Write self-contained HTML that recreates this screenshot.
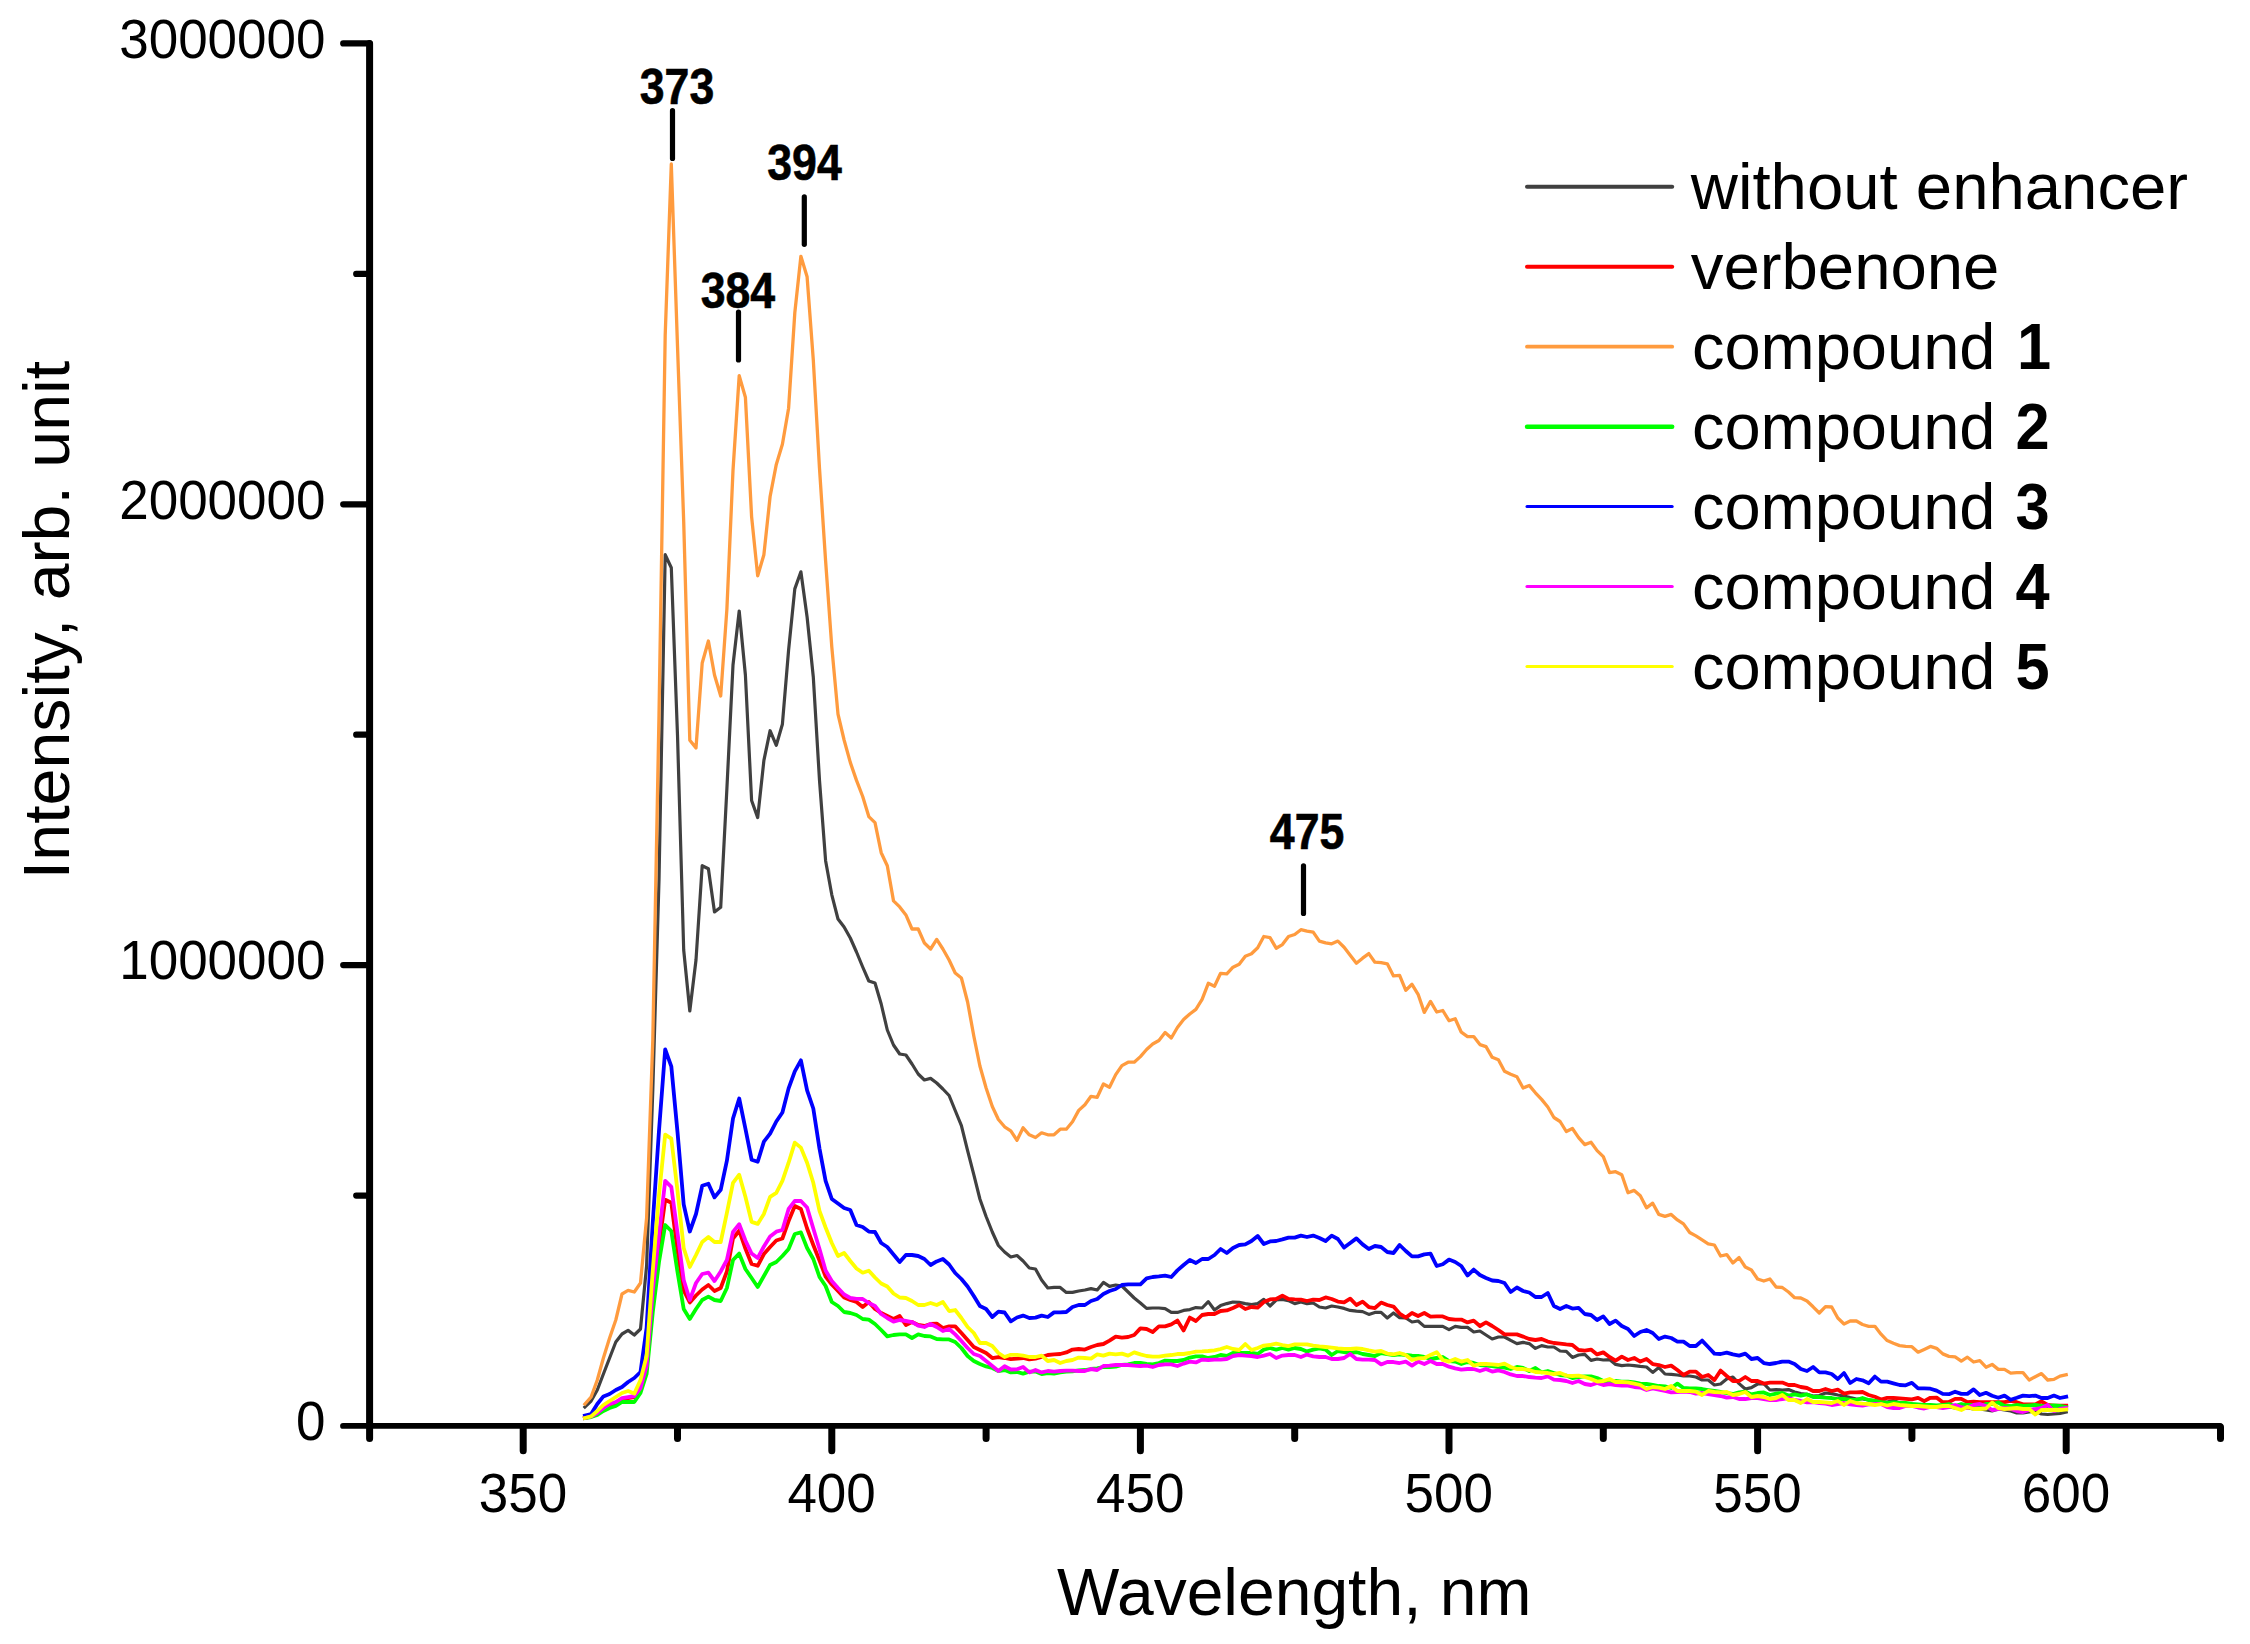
<!DOCTYPE html>
<html lang="en"><head><meta charset="utf-8"><title>Fluorescence spectra</title>
<style>
html,body{margin:0;padding:0;background:#fff;}
body{width:2250px;height:1644px;overflow:hidden;}
svg{display:block;}
text{font-family:"Liberation Sans",Arial,Helvetica,sans-serif;fill:#000;}
.ax{stroke:#000;fill:none;stroke-linecap:round;}
.cv{fill:none;stroke-linejoin:round;stroke-linecap:square;}
</style></head><body>
<svg width="2250" height="1644" viewBox="0 0 2250 1644">
<rect width="2250" height="1644" fill="#fff"/>
<polyline class="cv" stroke="#404040" stroke-width="3.2" points="584.9,1407.0 591.1,1401.0 597.3,1390.0 603.4,1374.0 609.6,1358.0 615.8,1342.0 622.0,1334.0 628.1,1330.4 634.3,1335.0 640.5,1329.0 646.6,1266.0 652.8,1090.0 659.0,880.0 665.2,554.7 671.3,567.8 677.5,735.0 683.7,950.0 689.8,1011.0 696.0,960.0 702.2,865.7 708.4,868.8 714.5,912.0 720.7,907.3 726.9,788.5 733.0,665.0 739.2,611.0 745.4,675.0 751.6,800.5 757.7,817.6 763.9,760.4 770.1,730.7 776.3,745.3 782.4,724.2 788.6,650.0 794.8,588.9 800.9,571.8 807.1,617.0 813.3,677.0 819.5,780.4 825.6,860.7 831.8,894.8 838.0,919.0 844.1,927.0 850.3,938.0 856.5,952.0 862.7,967.0 868.8,981.0 875.0,983.0 881.2,1004.0 887.3,1030.0 893.5,1045.0 899.7,1054.0 905.9,1055.0 912.0,1064.0 918.2,1074.0 924.4,1080.0 930.6,1078.4 936.7,1083.0 942.9,1089.0 949.1,1095.5 955.2,1110.5 961.4,1125.6 967.6,1150.7 973.8,1174.7 979.9,1199.0 986.1,1216.5 992.3,1232.0 998.4,1245.5 1004.6,1252.0 1010.8,1257.0 1017.0,1255.5 1023.1,1261.0 1029.3,1268.0 1035.5,1269.0 1041.6,1280.0 1047.8,1288.0 1054.0,1287.4 1060.2,1287.4 1066.3,1292.4 1072.5,1292.4 1078.7,1291.0 1084.9,1290.0 1091.0,1288.6 1097.2,1290.0 1103.4,1282.4 1109.5,1286.4 1115.7,1285.0 1121.9,1286.0 1128.1,1292.0 1134.2,1298.0 1140.4,1303.0 1146.6,1308.4 1152.7,1308.0 1158.9,1308.0 1165.1,1308.6 1171.3,1312.4 1177.4,1312.4 1183.6,1310.4 1189.8,1309.6 1195.9,1307.6 1202.1,1308.0 1208.3,1301.6 1214.5,1310.0 1220.6,1305.6 1226.8,1303.6 1233.0,1302.0 1239.2,1302.4 1245.3,1303.6 1251.5,1304.6 1257.7,1303.6 1263.8,1299.4 1270.0,1306.0 1276.2,1300.0 1282.4,1299.4 1288.5,1300.6 1294.7,1303.6 1300.9,1302.0 1307.0,1303.6 1313.2,1303.0 1319.4,1307.0 1325.6,1308.0 1331.7,1306.0 1337.9,1307.0 1344.1,1308.4 1350.2,1310.4 1356.4,1311.2 1362.6,1311.6 1368.8,1314.4 1374.9,1312.4 1381.1,1312.4 1387.3,1318.0 1393.5,1313.0 1399.6,1317.6 1405.8,1318.0 1412.0,1322.0 1418.1,1321.0 1424.3,1326.4 1430.5,1326.4 1436.7,1326.4 1442.8,1326.4 1449.0,1329.6 1455.2,1326.4 1461.3,1327.4 1467.5,1327.4 1473.7,1332.0 1479.9,1331.0 1486.0,1335.0 1492.2,1339.0 1498.4,1337.0 1504.5,1337.0 1510.7,1340.4 1516.9,1343.6 1523.1,1342.4 1529.2,1343.6 1535.4,1348.4 1541.6,1345.6 1547.8,1347.0 1553.9,1347.0 1560.1,1351.0 1566.3,1351.4 1572.4,1357.4 1578.6,1355.0 1584.8,1354.4 1591.0,1360.4 1597.1,1359.0 1603.3,1360.0 1609.5,1359.6 1615.6,1364.4 1621.8,1365.6 1628.0,1365.0 1634.2,1365.6 1640.3,1366.4 1646.5,1367.0 1652.7,1372.4 1658.8,1367.6 1665.0,1374.0 1671.2,1374.4 1677.4,1375.0 1683.5,1376.0 1689.7,1376.0 1695.9,1377.0 1702.1,1380.0 1708.2,1380.0 1714.4,1385.0 1720.6,1384.0 1726.7,1379.0 1732.9,1377.0 1739.1,1383.6 1745.3,1389.0 1751.4,1387.6 1757.6,1384.0 1763.8,1383.6 1769.9,1390.0 1776.1,1389.6 1782.3,1390.0 1788.5,1389.6 1794.6,1392.0 1800.8,1393.6 1807.0,1394.4 1813.1,1396.0 1819.3,1395.6 1825.5,1393.0 1831.7,1393.6 1837.8,1395.0 1844.0,1396.0 1850.2,1397.6 1856.4,1399.0 1862.5,1399.0 1868.7,1400.0 1874.9,1400.6 1881.0,1401.6 1887.2,1402.0 1893.4,1400.5 1899.6,1403.0 1905.7,1404.0 1911.9,1404.0 1918.1,1405.0 1924.2,1405.0 1930.4,1406.0 1936.6,1406.0 1942.8,1407.0 1948.9,1407.0 1955.1,1408.0 1961.3,1407.0 1967.4,1408.0 1973.6,1409.0 1979.8,1409.0 1986.0,1410.0 1992.1,1411.0 1998.3,1409.0 2004.5,1410.0 2010.7,1411.0 2016.8,1413.0 2023.0,1413.0 2029.2,1412.0 2035.3,1411.0 2041.5,1414.0 2047.7,1414.5 2053.9,1414.0 2060.0,1413.5 2066.2,1412.0"/>
<polyline class="cv" stroke="#ff0000" stroke-width="3.8" points="584.9,1418.0 591.1,1416.5 597.3,1413.5 603.4,1409.0 609.6,1405.0 615.8,1403.0 622.0,1399.0 628.1,1398.0 634.3,1397.0 640.5,1390.0 646.6,1368.0 652.8,1300.0 659.0,1245.0 665.2,1199.8 671.3,1202.8 677.5,1250.5 683.7,1290.5 689.8,1302.5 696.0,1295.5 702.2,1289.5 708.4,1285.0 714.5,1291.0 720.7,1288.0 726.9,1271.5 733.0,1238.5 739.2,1230.7 745.4,1248.5 751.6,1264.0 757.7,1265.8 763.9,1254.0 770.1,1247.0 776.3,1240.5 782.4,1238.5 788.6,1221.0 794.8,1206.0 800.9,1209.0 807.1,1228.5 813.3,1245.0 819.5,1260.5 825.6,1276.5 831.8,1284.5 838.0,1291.0 844.1,1297.5 850.3,1300.0 856.5,1302.0 862.7,1307.0 868.8,1302.0 875.0,1309.0 881.2,1313.0 887.3,1316.0 893.5,1319.0 899.7,1316.0 905.9,1325.0 912.0,1322.0 918.2,1325.0 924.4,1326.0 930.6,1324.0 936.7,1323.6 942.9,1328.0 949.1,1326.4 955.2,1326.4 961.4,1333.0 967.6,1340.0 973.8,1347.0 979.9,1350.0 986.1,1353.0 992.3,1358.0 998.4,1357.0 1004.6,1358.0 1010.8,1359.2 1017.0,1358.6 1023.1,1358.0 1029.3,1359.4 1035.5,1358.6 1041.6,1357.0 1047.8,1355.0 1054.0,1354.4 1060.2,1354.0 1066.3,1352.4 1072.5,1349.6 1078.7,1349.0 1084.9,1349.6 1091.0,1347.0 1097.2,1345.0 1103.4,1344.0 1109.5,1340.6 1115.7,1336.6 1121.9,1337.6 1128.1,1337.0 1134.2,1335.0 1140.4,1328.4 1146.6,1329.0 1152.7,1332.0 1158.9,1326.4 1165.1,1326.4 1171.3,1324.4 1177.4,1320.6 1183.6,1330.4 1189.8,1317.6 1195.9,1321.0 1202.1,1315.0 1208.3,1314.0 1214.5,1314.0 1220.6,1311.0 1226.8,1310.4 1233.0,1308.0 1239.2,1305.0 1245.3,1309.0 1251.5,1307.0 1257.7,1307.6 1263.8,1302.0 1270.0,1299.4 1276.2,1299.0 1282.4,1295.6 1288.5,1299.0 1294.7,1299.4 1300.9,1299.6 1307.0,1301.0 1313.2,1299.6 1319.4,1300.0 1325.6,1297.4 1331.7,1299.0 1337.9,1301.6 1344.1,1302.4 1350.2,1298.6 1356.4,1305.0 1362.6,1301.6 1368.8,1307.0 1374.9,1308.0 1381.1,1302.6 1387.3,1305.0 1393.5,1306.6 1399.6,1313.6 1405.8,1317.6 1412.0,1313.0 1418.1,1316.0 1424.3,1313.0 1430.5,1316.6 1436.7,1316.4 1442.8,1316.4 1449.0,1319.0 1455.2,1319.6 1461.3,1319.6 1467.5,1322.4 1473.7,1320.6 1479.9,1326.0 1486.0,1322.4 1492.2,1326.0 1498.4,1330.0 1504.5,1334.4 1510.7,1334.4 1516.9,1334.4 1523.1,1336.6 1529.2,1339.0 1535.4,1340.0 1541.6,1339.0 1547.8,1341.6 1553.9,1343.0 1560.1,1343.6 1566.3,1344.4 1572.4,1345.0 1578.6,1350.0 1584.8,1350.6 1591.0,1349.6 1597.1,1354.4 1603.3,1352.4 1609.5,1357.0 1615.6,1360.6 1621.8,1356.6 1628.0,1360.0 1634.2,1358.0 1640.3,1361.6 1646.5,1359.0 1652.7,1364.0 1658.8,1365.0 1665.0,1367.0 1671.2,1365.6 1677.4,1370.0 1683.5,1375.0 1689.7,1371.6 1695.9,1371.6 1702.1,1377.0 1708.2,1375.0 1714.4,1380.0 1720.6,1370.6 1726.7,1376.0 1732.9,1381.0 1739.1,1381.0 1745.3,1377.0 1751.4,1381.0 1757.6,1381.0 1763.8,1383.6 1769.9,1382.6 1776.1,1382.6 1782.3,1382.6 1788.5,1385.0 1794.6,1385.0 1800.8,1387.0 1807.0,1388.0 1813.1,1391.0 1819.3,1391.0 1825.5,1389.0 1831.7,1391.0 1837.8,1389.6 1844.0,1393.6 1850.2,1392.4 1856.4,1392.4 1862.5,1392.0 1868.7,1395.0 1874.9,1396.8 1881.0,1399.5 1887.2,1397.8 1893.4,1397.8 1899.6,1398.3 1905.7,1398.9 1911.9,1399.4 1918.1,1397.8 1924.2,1401.1 1930.4,1397.8 1936.6,1397.6 1942.8,1402.2 1948.9,1402.0 1955.1,1398.9 1961.3,1398.9 1967.4,1402.2 1973.6,1401.7 1979.8,1402.2 1986.0,1402.2 1992.1,1402.2 1998.3,1402.2 2004.5,1402.2 2010.7,1400.9 2016.8,1402.2 2023.0,1404.4 2029.2,1404.4 2035.3,1404.4 2041.5,1401.3 2047.7,1405.0 2053.9,1405.6 2060.0,1405.6 2066.2,1405.6"/>
<polyline class="cv" stroke="#ff9b3e" stroke-width="3.3" points="584.9,1404.0 591.1,1397.0 597.3,1380.0 603.4,1358.0 609.6,1338.0 615.8,1320.0 622.0,1294.0 628.1,1290.4 634.3,1292.0 640.5,1283.0 646.6,1218.0 652.8,1040.0 659.0,715.0 665.2,335.0 671.3,164.0 677.5,346.0 683.7,521.6 689.8,740.3 696.0,747.9 702.2,663.0 708.4,641.0 714.5,675.0 720.7,696.0 726.9,609.0 733.0,470.4 739.2,375.7 745.4,397.2 751.6,516.6 757.7,575.8 763.9,554.7 770.1,496.5 776.3,464.4 782.4,444.3 788.6,408.2 794.8,312.9 800.9,256.3 807.1,276.8 813.3,360.0 819.5,468.4 825.6,560.8 831.8,647.0 838.0,714.2 844.1,740.0 850.3,762.4 856.5,780.4 862.7,796.5 868.8,816.6 875.0,822.6 881.2,852.7 887.3,865.7 893.5,900.9 899.7,906.9 905.9,914.9 912.0,929.0 918.2,929.0 924.4,943.0 930.6,949.0 936.7,939.4 942.9,949.0 949.1,960.0 955.2,973.0 961.4,978.0 967.6,1002.0 973.8,1036.0 979.9,1066.0 986.1,1088.0 992.3,1106.5 998.4,1119.5 1004.6,1126.8 1010.8,1130.8 1017.0,1140.3 1023.1,1127.8 1029.3,1134.8 1035.5,1137.5 1041.6,1132.8 1047.8,1134.8 1054.0,1134.8 1060.2,1129.2 1066.3,1129.2 1072.5,1121.8 1078.7,1110.4 1084.9,1104.7 1091.0,1096.3 1097.2,1097.3 1103.4,1084.0 1109.5,1087.3 1115.7,1074.6 1121.9,1065.6 1128.1,1062.2 1134.2,1062.2 1140.4,1056.6 1146.6,1049.5 1152.7,1044.0 1158.9,1040.5 1165.1,1032.5 1171.3,1038.0 1177.4,1027.5 1183.6,1019.4 1189.8,1014.0 1195.9,1009.4 1202.1,999.4 1208.3,983.3 1214.5,986.3 1220.6,973.3 1226.8,973.9 1233.0,967.2 1239.2,964.2 1245.3,956.2 1251.5,953.8 1257.7,947.8 1263.8,936.5 1270.0,937.7 1276.2,948.2 1282.4,944.6 1288.5,936.5 1294.7,934.5 1300.9,929.7 1307.0,931.1 1313.2,932.1 1319.4,941.1 1325.6,942.8 1331.7,943.8 1337.9,941.1 1344.1,947.2 1350.2,955.2 1356.4,963.2 1362.6,958.2 1368.8,953.6 1374.9,962.2 1381.1,962.6 1387.3,963.8 1393.5,975.9 1399.6,975.3 1405.8,990.3 1412.0,984.3 1418.1,994.3 1424.3,1012.4 1430.5,1001.4 1436.7,1012.0 1442.8,1010.5 1449.0,1020.7 1455.2,1018.7 1461.3,1032.2 1467.5,1036.6 1473.7,1036.6 1479.9,1044.6 1486.0,1046.6 1492.2,1057.3 1498.4,1059.7 1504.5,1071.3 1510.7,1074.3 1516.9,1076.7 1523.1,1088.0 1529.2,1085.4 1535.4,1092.8 1541.6,1099.4 1547.8,1107.0 1553.9,1117.5 1560.1,1121.5 1566.3,1131.5 1572.4,1128.5 1578.6,1137.6 1584.8,1144.6 1591.0,1142.2 1597.1,1150.6 1603.3,1156.6 1609.5,1172.7 1615.6,1171.7 1621.8,1174.7 1628.0,1192.8 1634.2,1190.4 1640.3,1195.8 1646.5,1207.8 1652.7,1203.2 1658.8,1214.4 1665.0,1216.4 1671.2,1214.4 1677.4,1219.9 1683.5,1223.9 1689.7,1232.5 1695.9,1235.9 1702.1,1239.9 1708.2,1243.9 1714.4,1245.0 1720.6,1256.0 1726.7,1254.6 1732.9,1263.0 1739.1,1257.6 1745.3,1267.0 1751.4,1270.0 1757.6,1279.0 1763.8,1281.0 1769.9,1279.0 1776.1,1287.0 1782.3,1287.5 1788.5,1292.0 1794.6,1297.7 1800.8,1298.0 1807.0,1301.0 1813.1,1306.8 1819.3,1313.0 1825.5,1306.6 1831.7,1307.0 1837.8,1318.0 1844.0,1324.0 1850.2,1321.0 1856.4,1321.0 1862.5,1324.5 1868.7,1326.3 1874.9,1326.3 1881.0,1334.2 1887.2,1340.6 1893.4,1343.3 1899.6,1345.6 1905.7,1346.4 1911.9,1346.7 1918.1,1352.2 1924.2,1349.4 1930.4,1346.4 1936.6,1348.3 1942.8,1353.9 1948.9,1356.4 1955.1,1356.9 1961.3,1361.1 1967.4,1357.2 1973.6,1362.0 1979.8,1360.6 1986.0,1367.2 1992.1,1364.4 1998.3,1369.4 2004.5,1369.4 2010.7,1373.1 2016.8,1372.6 2023.0,1372.6 2029.2,1380.0 2035.3,1376.7 2041.5,1373.6 2047.7,1380.0 2053.9,1379.4 2060.0,1376.1 2066.2,1374.7"/>
<polyline class="cv" stroke="#00ff00" stroke-width="3.8" points="584.9,1418.0 591.1,1417.0 597.3,1415.0 603.4,1411.0 609.6,1408.0 615.8,1406.0 622.0,1402.0 628.1,1402.0 634.3,1402.0 640.5,1393.0 646.6,1374.0 652.8,1312.0 659.0,1262.0 665.2,1225.0 671.3,1231.0 677.5,1272.0 683.7,1309.0 689.8,1319.0 696.0,1309.0 702.2,1300.0 708.4,1296.6 714.5,1300.0 720.7,1301.0 726.9,1288.0 733.0,1260.0 739.2,1253.6 745.4,1269.0 751.6,1278.0 757.7,1287.0 763.9,1276.0 770.1,1265.0 776.3,1262.0 782.4,1256.0 788.6,1249.0 794.8,1234.0 800.9,1232.4 807.1,1248.0 813.3,1259.0 819.5,1277.0 825.6,1286.0 831.8,1302.0 838.0,1306.0 844.1,1312.0 850.3,1313.0 856.5,1315.0 862.7,1319.0 868.8,1319.6 875.0,1324.0 881.2,1330.0 887.3,1336.4 893.5,1335.0 899.7,1334.4 905.9,1334.4 912.0,1338.0 918.2,1334.4 924.4,1336.0 930.6,1336.4 936.7,1339.0 942.9,1339.4 949.1,1339.4 955.2,1342.0 961.4,1348.0 967.6,1356.0 973.8,1361.0 979.9,1364.0 986.1,1366.4 992.3,1368.0 998.4,1371.0 1004.6,1370.0 1010.8,1372.4 1017.0,1372.0 1023.1,1373.6 1029.3,1371.6 1035.5,1371.6 1041.6,1374.0 1047.8,1373.0 1054.0,1373.6 1060.2,1372.4 1066.3,1371.6 1072.5,1371.4 1078.7,1370.4 1084.9,1370.0 1091.0,1369.0 1097.2,1368.4 1103.4,1367.0 1109.5,1367.0 1115.7,1366.6 1121.9,1365.0 1128.1,1364.4 1134.2,1363.0 1140.4,1363.0 1146.6,1364.0 1152.7,1364.4 1158.9,1363.0 1165.1,1360.6 1171.3,1361.0 1177.4,1361.0 1183.6,1360.0 1189.8,1357.6 1195.9,1356.4 1202.1,1356.4 1208.3,1358.0 1214.5,1357.0 1220.6,1355.0 1226.8,1356.0 1233.0,1353.0 1239.2,1353.0 1245.3,1353.0 1251.5,1353.0 1257.7,1354.0 1263.8,1349.6 1270.0,1348.0 1276.2,1349.6 1282.4,1348.0 1288.5,1349.6 1294.7,1348.0 1300.9,1349.0 1307.0,1351.4 1313.2,1349.6 1319.4,1348.4 1325.6,1349.6 1331.7,1355.0 1337.9,1351.0 1344.1,1352.0 1350.2,1353.0 1356.4,1352.0 1362.6,1354.0 1368.8,1355.0 1374.9,1356.0 1381.1,1353.0 1387.3,1354.0 1393.5,1355.0 1399.6,1354.4 1405.8,1355.0 1412.0,1355.6 1418.1,1356.0 1424.3,1357.0 1430.5,1359.0 1436.7,1358.0 1442.8,1357.0 1449.0,1361.0 1455.2,1361.6 1461.3,1364.0 1467.5,1362.0 1473.7,1363.0 1479.9,1365.0 1486.0,1365.6 1492.2,1366.0 1498.4,1367.0 1504.5,1367.6 1510.7,1369.0 1516.9,1367.0 1523.1,1368.0 1529.2,1371.0 1535.4,1368.0 1541.6,1372.4 1547.8,1371.0 1553.9,1373.0 1560.1,1375.0 1566.3,1375.6 1572.4,1378.0 1578.6,1377.0 1584.8,1376.4 1591.0,1376.4 1597.1,1378.0 1603.3,1381.0 1609.5,1382.0 1615.6,1381.0 1621.8,1381.6 1628.0,1381.6 1634.2,1382.4 1640.3,1383.6 1646.5,1384.0 1652.7,1385.0 1658.8,1386.0 1665.0,1386.4 1671.2,1388.0 1677.4,1383.6 1683.5,1388.0 1689.7,1388.4 1695.9,1388.4 1702.1,1389.0 1708.2,1390.0 1714.4,1391.0 1720.6,1392.0 1726.7,1393.0 1732.9,1394.0 1739.1,1392.4 1745.3,1391.6 1751.4,1394.4 1757.6,1393.0 1763.8,1392.4 1769.9,1395.0 1776.1,1393.6 1782.3,1393.0 1788.5,1395.6 1794.6,1394.4 1800.8,1395.6 1807.0,1394.4 1813.1,1397.0 1819.3,1397.0 1825.5,1397.6 1831.7,1398.0 1837.8,1399.0 1844.0,1399.0 1850.2,1400.0 1856.4,1400.0 1862.5,1398.0 1868.7,1400.0 1874.9,1401.0 1881.0,1402.0 1887.2,1403.0 1893.4,1402.5 1899.6,1403.0 1905.7,1403.0 1911.9,1404.0 1918.1,1404.5 1924.2,1405.0 1930.4,1405.0 1936.6,1405.5 1942.8,1405.0 1948.9,1404.0 1955.1,1406.0 1961.3,1404.0 1967.4,1405.0 1973.6,1405.0 1979.8,1406.0 1986.0,1404.0 1992.1,1404.0 1998.3,1402.5 2004.5,1406.0 2010.7,1406.0 2016.8,1405.0 2023.0,1406.0 2029.2,1405.5 2035.3,1405.0 2041.5,1406.0 2047.7,1406.0 2053.9,1405.5 2060.0,1406.0 2066.2,1407.0"/>
<polyline class="cv" stroke="#0000ff" stroke-width="3.8" points="584.9,1415.6 591.1,1414.0 597.3,1404.0 603.4,1396.4 609.6,1394.0 615.8,1390.0 622.0,1387.0 628.1,1382.0 634.3,1378.0 640.5,1372.0 646.6,1328.0 652.8,1222.0 659.0,1130.6 665.2,1049.3 671.3,1066.3 677.5,1132.0 683.7,1204.5 689.8,1231.5 696.0,1214.0 702.2,1185.8 708.4,1183.8 714.5,1197.4 720.7,1189.8 726.9,1160.7 733.0,1118.5 739.2,1098.5 745.4,1128.6 751.6,1159.7 757.7,1161.7 763.9,1141.6 770.1,1133.6 776.3,1121.5 782.4,1112.5 788.6,1088.4 794.8,1071.4 800.9,1060.3 807.1,1090.4 813.3,1108.5 819.5,1148.6 825.6,1180.8 831.8,1199.0 838.0,1203.5 844.1,1208.0 850.3,1210.0 856.5,1225.0 862.7,1227.0 868.8,1231.6 875.0,1232.0 881.2,1243.0 887.3,1247.0 893.5,1254.5 899.7,1262.0 905.9,1255.0 912.0,1255.0 918.2,1256.0 924.4,1259.0 930.6,1265.0 936.7,1261.4 942.9,1259.0 949.1,1264.5 955.2,1273.0 961.4,1279.0 967.6,1286.5 973.8,1296.0 979.9,1306.0 986.1,1309.0 992.3,1317.0 998.4,1311.6 1004.6,1312.5 1010.8,1321.3 1017.0,1317.5 1023.1,1315.6 1029.3,1318.0 1035.5,1317.6 1041.6,1315.6 1047.8,1317.0 1054.0,1312.4 1060.2,1312.4 1066.3,1312.0 1072.5,1307.0 1078.7,1305.0 1084.9,1305.0 1091.0,1301.0 1097.2,1299.0 1103.4,1294.0 1109.5,1291.0 1115.7,1289.0 1121.9,1285.0 1128.1,1284.4 1134.2,1284.4 1140.4,1284.4 1146.6,1278.4 1152.7,1277.0 1158.9,1276.4 1165.1,1275.6 1171.3,1277.0 1177.4,1270.4 1183.6,1265.0 1189.8,1260.0 1195.9,1263.0 1202.1,1259.0 1208.3,1259.0 1214.5,1255.0 1220.6,1249.0 1226.8,1253.0 1233.0,1248.0 1239.2,1245.0 1245.3,1244.4 1251.5,1241.0 1257.7,1236.0 1263.8,1244.0 1270.0,1241.4 1276.2,1241.0 1282.4,1239.4 1288.5,1237.6 1294.7,1237.6 1300.9,1235.6 1307.0,1237.0 1313.2,1235.6 1319.4,1238.0 1325.6,1241.0 1331.7,1235.6 1337.9,1239.0 1344.1,1247.6 1350.2,1243.0 1356.4,1238.4 1362.6,1244.4 1368.8,1249.0 1374.9,1246.0 1381.1,1247.0 1387.3,1252.0 1393.5,1253.0 1399.6,1245.0 1405.8,1251.0 1412.0,1256.4 1418.1,1256.4 1424.3,1254.4 1430.5,1253.6 1436.7,1266.0 1442.8,1264.2 1449.0,1259.6 1455.2,1262.0 1461.3,1266.0 1467.5,1275.5 1473.7,1269.6 1479.9,1275.0 1486.0,1278.0 1492.2,1280.5 1498.4,1281.0 1504.5,1283.0 1510.7,1292.0 1516.9,1287.5 1523.1,1291.0 1529.2,1292.5 1535.4,1297.0 1541.6,1297.0 1547.8,1293.0 1553.9,1306.0 1560.1,1309.0 1566.3,1306.0 1572.4,1308.6 1578.6,1307.8 1584.8,1314.0 1591.0,1315.0 1597.1,1320.0 1603.3,1316.4 1609.5,1324.0 1615.6,1320.6 1621.8,1326.0 1628.0,1329.0 1634.2,1336.0 1640.3,1332.0 1646.5,1330.0 1652.7,1333.0 1658.8,1339.0 1665.0,1336.6 1671.2,1338.0 1677.4,1341.6 1683.5,1341.6 1689.7,1346.0 1695.9,1346.0 1702.1,1340.6 1708.2,1347.0 1714.4,1353.6 1720.6,1354.0 1726.7,1352.6 1732.9,1354.4 1739.1,1355.6 1745.3,1353.6 1751.4,1359.0 1757.6,1358.0 1763.8,1363.0 1769.9,1364.0 1776.1,1363.0 1782.3,1361.6 1788.5,1361.6 1794.6,1364.0 1800.8,1369.0 1807.0,1371.0 1813.1,1367.0 1819.3,1372.4 1825.5,1372.4 1831.7,1374.0 1837.8,1379.0 1844.0,1373.0 1850.2,1383.0 1856.4,1379.0 1862.5,1380.3 1868.7,1383.2 1874.9,1376.6 1881.0,1381.6 1887.2,1381.7 1893.4,1383.3 1899.6,1385.0 1905.7,1385.3 1911.9,1382.8 1918.1,1388.3 1924.2,1388.3 1930.4,1388.7 1936.6,1390.6 1942.8,1393.9 1948.9,1394.2 1955.1,1391.7 1961.3,1393.9 1967.4,1393.9 1973.6,1389.4 1979.8,1395.0 1986.0,1392.8 1992.1,1395.8 1998.3,1397.8 2004.5,1395.6 2010.7,1399.8 2016.8,1397.8 2023.0,1395.6 2029.2,1396.1 2035.3,1395.6 2041.5,1398.0 2047.7,1398.0 2053.9,1395.6 2060.0,1398.0 2066.2,1396.7"/>
<polyline class="cv" stroke="#ff00ff" stroke-width="3.8" points="584.9,1418.0 591.1,1416.5 597.3,1413.0 603.4,1408.0 609.6,1404.0 615.8,1402.0 622.0,1398.0 628.1,1397.0 634.3,1396.0 640.5,1388.0 646.6,1366.0 652.8,1290.0 659.0,1235.0 665.2,1180.8 671.3,1186.8 677.5,1233.0 683.7,1280.0 689.8,1300.0 696.0,1283.0 702.2,1274.0 708.4,1272.7 714.5,1281.0 720.7,1271.5 726.9,1260.0 733.0,1232.0 739.2,1224.2 745.4,1240.5 751.6,1253.5 757.7,1258.0 763.9,1246.5 770.1,1236.5 776.3,1231.7 782.4,1230.0 788.6,1209.0 794.8,1201.0 800.9,1201.0 807.1,1207.5 813.3,1228.5 819.5,1249.0 825.6,1270.5 831.8,1281.0 838.0,1288.0 844.1,1294.5 850.3,1298.0 856.5,1298.8 862.7,1299.0 868.8,1303.0 875.0,1306.0 881.2,1314.0 887.3,1318.0 893.5,1321.6 899.7,1320.0 905.9,1321.0 912.0,1322.0 918.2,1325.6 924.4,1327.0 930.6,1324.0 936.7,1327.0 942.9,1331.0 949.1,1329.0 955.2,1334.4 961.4,1341.0 967.6,1348.0 973.8,1354.0 979.9,1356.0 986.1,1361.0 992.3,1366.0 998.4,1371.0 1004.6,1366.2 1010.8,1369.5 1017.0,1369.3 1023.1,1367.0 1029.3,1372.4 1035.5,1370.0 1041.6,1372.4 1047.8,1371.0 1054.0,1371.6 1060.2,1371.0 1066.3,1370.6 1072.5,1370.6 1078.7,1371.0 1084.9,1371.0 1091.0,1369.0 1097.2,1370.0 1103.4,1366.0 1109.5,1365.6 1115.7,1365.0 1121.9,1365.0 1128.1,1365.0 1134.2,1365.6 1140.4,1366.0 1146.6,1365.6 1152.7,1367.0 1158.9,1365.0 1165.1,1364.4 1171.3,1364.4 1177.4,1366.0 1183.6,1363.6 1189.8,1361.6 1195.9,1362.4 1202.1,1359.6 1208.3,1360.0 1214.5,1359.6 1220.6,1359.6 1226.8,1359.0 1233.0,1356.0 1239.2,1355.0 1245.3,1355.6 1251.5,1356.0 1257.7,1357.0 1263.8,1355.6 1270.0,1354.0 1276.2,1358.0 1282.4,1355.6 1288.5,1355.0 1294.7,1355.0 1300.9,1357.0 1307.0,1354.6 1313.2,1356.4 1319.4,1357.0 1325.6,1357.0 1331.7,1359.0 1337.9,1359.0 1344.1,1358.0 1350.2,1354.0 1356.4,1359.0 1362.6,1359.6 1368.8,1359.6 1374.9,1360.0 1381.1,1364.4 1387.3,1362.0 1393.5,1362.0 1399.6,1363.0 1405.8,1361.6 1412.0,1365.6 1418.1,1361.6 1424.3,1364.0 1430.5,1361.0 1436.7,1364.0 1442.8,1364.0 1449.0,1366.7 1455.2,1368.4 1461.3,1369.6 1467.5,1369.0 1473.7,1369.0 1479.9,1371.0 1486.0,1369.0 1492.2,1371.6 1498.4,1370.4 1504.5,1372.0 1510.7,1374.4 1516.9,1376.0 1523.1,1376.0 1529.2,1377.0 1535.4,1377.6 1541.6,1378.0 1547.8,1376.4 1553.9,1379.6 1560.1,1380.0 1566.3,1381.0 1572.4,1383.0 1578.6,1381.0 1584.8,1384.0 1591.0,1385.0 1597.1,1383.0 1603.3,1385.0 1609.5,1384.0 1615.6,1385.0 1621.8,1385.6 1628.0,1385.6 1634.2,1387.0 1640.3,1387.6 1646.5,1390.0 1652.7,1388.4 1658.8,1389.6 1665.0,1391.0 1671.2,1392.4 1677.4,1392.0 1683.5,1391.6 1689.7,1392.0 1695.9,1393.6 1702.1,1393.0 1708.2,1394.0 1714.4,1395.0 1720.6,1396.0 1726.7,1397.6 1732.9,1397.0 1739.1,1399.0 1745.3,1399.0 1751.4,1398.0 1757.6,1398.0 1763.8,1399.0 1769.9,1400.0 1776.1,1400.0 1782.3,1399.0 1788.5,1398.0 1794.6,1400.0 1800.8,1401.0 1807.0,1402.4 1813.1,1402.0 1819.3,1403.0 1825.5,1403.6 1831.7,1405.0 1837.8,1404.0 1844.0,1403.0 1850.2,1404.4 1856.4,1405.0 1862.5,1405.6 1868.7,1404.4 1874.9,1404.0 1881.0,1404.0 1887.2,1407.0 1893.4,1408.0 1899.6,1408.0 1905.7,1406.0 1911.9,1406.0 1918.1,1407.5 1924.2,1408.5 1930.4,1407.0 1936.6,1407.0 1942.8,1408.0 1948.9,1407.0 1955.1,1405.0 1961.3,1407.0 1967.4,1408.0 1973.6,1405.0 1979.8,1404.0 1986.0,1406.0 1992.1,1410.0 1998.3,1409.0 2004.5,1408.0 2010.7,1409.0 2016.8,1411.0 2023.0,1412.0 2029.2,1410.0 2035.3,1409.0 2041.5,1408.0 2047.7,1405.0 2053.9,1411.0 2060.0,1409.0 2066.2,1408.0"/>
<polyline class="cv" stroke="#ffff00" stroke-width="3.8" points="584.9,1418.0 591.1,1416.4 597.3,1411.0 603.4,1405.0 609.6,1401.0 615.8,1397.0 622.0,1393.0 628.1,1391.0 634.3,1393.6 640.5,1380.0 646.6,1356.0 652.8,1270.0 659.0,1194.8 665.2,1134.6 671.3,1138.6 677.5,1190.8 683.7,1248.0 689.8,1267.0 696.0,1255.0 702.2,1242.0 708.4,1237.0 714.5,1242.0 720.7,1242.0 726.9,1212.9 733.0,1182.8 739.2,1174.7 745.4,1196.8 751.6,1221.9 757.7,1223.9 763.9,1213.9 770.1,1196.8 776.3,1192.8 782.4,1180.8 788.6,1162.7 794.8,1142.6 800.9,1147.6 807.1,1162.7 813.3,1182.8 819.5,1210.9 825.6,1227.5 831.8,1243.0 838.0,1256.0 844.1,1253.0 850.3,1261.0 856.5,1268.5 862.7,1272.7 868.8,1270.7 875.0,1277.5 881.2,1283.5 887.3,1286.5 893.5,1293.5 899.7,1297.5 905.9,1298.0 912.0,1301.0 918.2,1305.0 924.4,1305.0 930.6,1303.0 936.7,1305.0 942.9,1302.0 949.1,1311.0 955.2,1310.0 961.4,1318.0 967.6,1327.0 973.8,1333.0 979.9,1343.0 986.1,1343.0 992.3,1346.0 998.4,1353.0 1004.6,1357.0 1010.8,1354.8 1017.0,1354.8 1023.1,1355.6 1029.3,1357.0 1035.5,1357.0 1041.6,1355.6 1047.8,1361.0 1054.0,1360.0 1060.2,1363.0 1066.3,1361.0 1072.5,1360.0 1078.7,1357.6 1084.9,1358.0 1091.0,1358.6 1097.2,1354.4 1103.4,1355.6 1109.5,1353.6 1115.7,1354.4 1121.9,1353.6 1128.1,1355.6 1134.2,1352.4 1140.4,1354.4 1146.6,1356.0 1152.7,1356.6 1158.9,1356.6 1165.1,1355.6 1171.3,1355.0 1177.4,1354.0 1183.6,1354.0 1189.8,1353.0 1195.9,1351.6 1202.1,1351.4 1208.3,1351.0 1214.5,1350.4 1220.6,1349.0 1226.8,1347.0 1233.0,1349.0 1239.2,1350.0 1245.3,1344.0 1251.5,1350.0 1257.7,1348.0 1263.8,1345.6 1270.0,1345.0 1276.2,1343.6 1282.4,1345.0 1288.5,1346.0 1294.7,1344.4 1300.9,1344.4 1307.0,1344.4 1313.2,1345.6 1319.4,1346.4 1325.6,1347.0 1331.7,1347.6 1337.9,1348.4 1344.1,1349.0 1350.2,1349.0 1356.4,1348.4 1362.6,1349.0 1368.8,1350.4 1374.9,1351.6 1381.1,1351.0 1387.3,1353.6 1393.5,1354.4 1399.6,1353.0 1405.8,1355.0 1412.0,1360.0 1418.1,1358.4 1424.3,1358.0 1430.5,1355.0 1436.7,1352.2 1442.8,1360.0 1449.0,1361.6 1455.2,1359.0 1461.3,1361.6 1467.5,1360.0 1473.7,1365.6 1479.9,1364.0 1486.0,1364.0 1492.2,1364.4 1498.4,1365.0 1504.5,1363.6 1510.7,1367.0 1516.9,1369.0 1523.1,1369.0 1529.2,1370.0 1535.4,1372.0 1541.6,1372.4 1547.8,1373.0 1553.9,1374.0 1560.1,1373.0 1566.3,1375.6 1572.4,1376.0 1578.6,1375.6 1584.8,1377.0 1591.0,1379.0 1597.1,1381.6 1603.3,1381.0 1609.5,1379.0 1615.6,1382.0 1621.8,1382.0 1628.0,1382.4 1634.2,1383.6 1640.3,1385.0 1646.5,1389.0 1652.7,1387.0 1658.8,1387.6 1665.0,1389.0 1671.2,1386.0 1677.4,1391.0 1683.5,1391.0 1689.7,1391.0 1695.9,1391.6 1702.1,1395.0 1708.2,1391.0 1714.4,1392.0 1720.6,1392.4 1726.7,1392.0 1732.9,1395.0 1739.1,1394.0 1745.3,1392.0 1751.4,1397.0 1757.6,1396.0 1763.8,1397.0 1769.9,1399.0 1776.1,1398.0 1782.3,1395.0 1788.5,1400.0 1794.6,1400.0 1800.8,1403.0 1807.0,1399.0 1813.1,1402.0 1819.3,1402.0 1825.5,1402.4 1831.7,1403.0 1837.8,1401.0 1844.0,1405.0 1850.2,1401.0 1856.4,1403.0 1862.5,1403.6 1868.7,1404.0 1874.9,1405.0 1881.0,1404.0 1887.2,1405.5 1893.4,1404.0 1899.6,1405.0 1905.7,1405.5 1911.9,1406.0 1918.1,1406.0 1924.2,1406.5 1930.4,1407.0 1936.6,1407.0 1942.8,1406.0 1948.9,1406.0 1955.1,1408.0 1961.3,1410.0 1967.4,1407.0 1973.6,1409.0 1979.8,1409.0 1986.0,1408.5 1992.1,1402.5 1998.3,1408.0 2004.5,1409.0 2010.7,1408.5 2016.8,1408.0 2023.0,1409.0 2029.2,1409.0 2035.3,1414.5 2041.5,1410.0 2047.7,1410.0 2053.9,1410.0 2060.0,1410.0 2066.2,1409.5"/>
<g class="ax">
<path stroke-width="7" d="M369.6,43.45V1438.4M523.2,1426.95V1450.8M831.8,1426.95V1450.8M1140.4,1426.95V1450.8M1449.0,1426.95V1450.8M1757.6,1426.95V1450.8M2066.2,1426.95V1450.8M677.5,1426.95V1438.4M986.1,1426.95V1438.4M1294.7,1426.95V1438.4M1603.3,1426.95V1438.4M1911.9,1426.95V1438.4M2220.5,1426.95V1438.4"/>
<path stroke-width="5.8" d="M343,1425.95H2220"/>
<path stroke-width="6.2" d="M343.2,965.12H369.6M343.2,504.29H369.6M343.2,43.46H369.6M356.2,1195.54H369.6M356.2,734.71H369.6M356.2,273.88H369.6"/>
</g>
<text transform="translate(325.5,1440.2) scale(1,1.045)" font-size="53" text-anchor="end">0</text>
<text transform="translate(325.5,979.4) scale(1,1.045)" font-size="53" text-anchor="end">1000000</text>
<text transform="translate(325.5,518.6) scale(1,1.045)" font-size="53" text-anchor="end">2000000</text>
<text transform="translate(325.5,57.8) scale(1,1.045)" font-size="53" text-anchor="end">3000000</text>
<text transform="translate(523.0,1511.5) scale(1,1.045)" font-size="53" text-anchor="middle">350</text>
<text transform="translate(831.6,1511.5) scale(1,1.045)" font-size="53" text-anchor="middle">400</text>
<text transform="translate(1140.2,1511.5) scale(1,1.045)" font-size="53" text-anchor="middle">450</text>
<text transform="translate(1448.8,1511.5) scale(1,1.045)" font-size="53" text-anchor="middle">500</text>
<text transform="translate(1757.4,1511.5) scale(1,1.045)" font-size="53" text-anchor="middle">550</text>
<text transform="translate(2066.0,1511.5) scale(1,1.045)" font-size="53" text-anchor="middle">600</text>
<text transform="translate(1294.3,1615.0)" font-size="66" text-anchor="middle">Wavelength, nm</text>
<text transform="translate(69.3,620.0) rotate(-90) scale(1.02,1)" font-size="65" text-anchor="middle">Intensity, arb. unit</text>
<text transform="translate(677.0,104.0) scale(0.94,1.06)" font-size="47.5" text-anchor="middle" font-weight="bold" stroke="#000" stroke-width="0.6">373</text>
<path d="M672.5,110.7V158.5" stroke="#000" stroke-width="5.2" stroke-linecap="round" fill="none"/>
<text transform="translate(804.5,180) scale(0.94,1.06)" font-size="47.5" text-anchor="middle" font-weight="bold" stroke="#000" stroke-width="0.6">394</text>
<path d="M804.3,196.9V244.29999999999998" stroke="#000" stroke-width="5.2" stroke-linecap="round" fill="none"/>
<text transform="translate(737.9,308.2) scale(0.94,1.06)" font-size="47.5" text-anchor="middle" font-weight="bold" stroke="#000" stroke-width="0.6">384</text>
<path d="M738.5,312.1V360.0" stroke="#000" stroke-width="5.2" stroke-linecap="round" fill="none"/>
<text transform="translate(1307.1,848.6) scale(0.94,1.06)" font-size="47.5" text-anchor="middle" font-weight="bold" stroke="#000" stroke-width="0.6">475</text>
<path d="M1303.5,865.8V913.5" stroke="#000" stroke-width="5.2" stroke-linecap="round" fill="none"/>
<path d="M1527,186.8H1672.2" stroke="#404040" stroke-width="4" stroke-linecap="round" fill="none"/>
<text transform="translate(1690.8,209.3)" font-size="65.3" text-anchor="start">without enhancer</text>
<path d="M1527,266.8H1672.2" stroke="#ff0000" stroke-width="4" stroke-linecap="round" fill="none"/>
<text transform="translate(1690.8,289.2)" font-size="65.3" text-anchor="start">verbenone</text>
<path d="M1527,346.7H1672.2" stroke="#ff9b3e" stroke-width="3.8" stroke-linecap="round" fill="none"/>
<text transform="translate(1691.9,369.2)" font-size="65.0" text-anchor="start">compound</text>
<text transform="translate(2034.0,369.2) scale(0.94,1.0)" font-size="65.3" text-anchor="middle" font-weight="bold">1</text>
<path d="M1527,426.7H1672.2" stroke="#00ff00" stroke-width="4.4" stroke-linecap="round" fill="none"/>
<text transform="translate(1691.9,449.2)" font-size="65.0" text-anchor="start">compound</text>
<text transform="translate(2032.6,449.2) scale(0.94,1.0)" font-size="65.3" text-anchor="middle" font-weight="bold">2</text>
<path d="M1527,506.6H1672.2" stroke="#0000ff" stroke-width="3" stroke-linecap="round" fill="none"/>
<text transform="translate(1691.9,529.1)" font-size="65.0" text-anchor="start">compound</text>
<text transform="translate(2032.6,529.1) scale(0.94,1.0)" font-size="65.3" text-anchor="middle" font-weight="bold">3</text>
<path d="M1527,586.5H1672.2" stroke="#ff00ff" stroke-width="3.1" stroke-linecap="round" fill="none"/>
<text transform="translate(1691.9,609.0)" font-size="65.0" text-anchor="start">compound</text>
<text transform="translate(2032.6,609.0) scale(0.94,1.0)" font-size="65.3" text-anchor="middle" font-weight="bold">4</text>
<path d="M1527,666.5H1672.2" stroke="#ffff00" stroke-width="3.1" stroke-linecap="round" fill="none"/>
<text transform="translate(1691.9,689.0)" font-size="65.0" text-anchor="start">compound</text>
<text transform="translate(2032.6,689.0) scale(0.94,1.0)" font-size="65.3" text-anchor="middle" font-weight="bold">5</text>
</svg>
</body></html>
